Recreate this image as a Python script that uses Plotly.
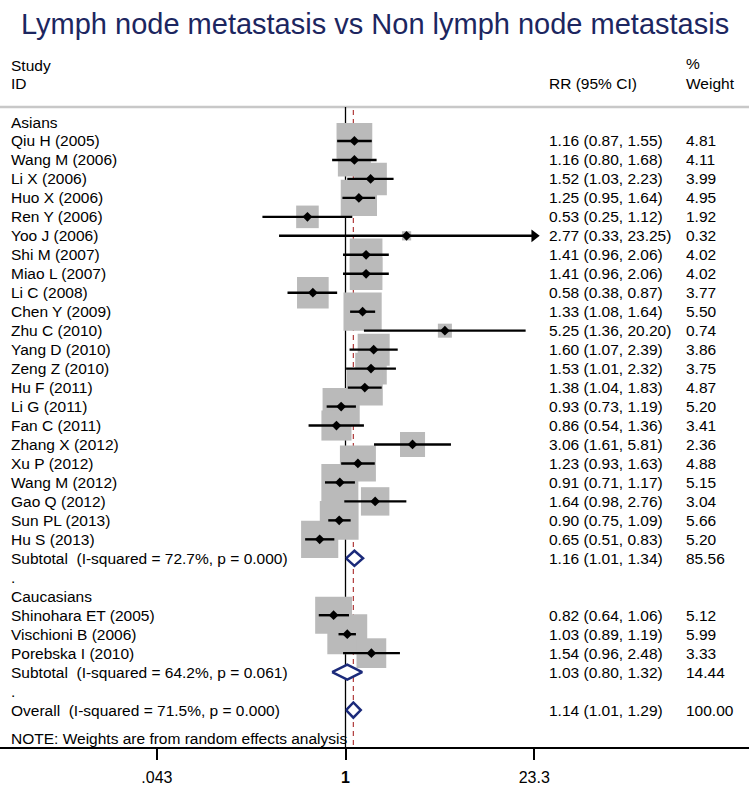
import math
import plotly.graph_objects as go

# ---------------- data ----------------
asian_ids = ["Qiu H (2005)", "Wang M (2006)", "Li X (2006)", "Huo X (2006)", "Ren Y (2006)",
             "Yoo J (2006)", "Shi M (2007)", "Miao L (2007)", "Li C (2008)", "Chen Y (2009)",
             "Zhu C (2010)", "Yang D (2010)", "Zeng Z (2010)", "Hu F (2011)", "Li G (2011)",
             "Fan C (2011)", "Zhang X (2012)", "Xu P (2012)", "Wang M (2012)", "Gao Q (2012)",
             "Sun PL (2013)", "Hu S (2013)"]
asian_rr = [1.16, 1.16, 1.52, 1.25, 0.53, 2.77, 1.41, 1.41, 0.58, 1.33, 5.25, 1.60, 1.53, 1.38,
            0.93, 0.86, 3.06, 1.23, 0.91, 1.64, 0.90, 0.65]
asian_lo = [0.87, 0.80, 1.03, 0.95, 0.25, 0.33, 0.96, 0.96, 0.38, 1.08, 1.36, 1.07, 1.01, 1.04,
            0.73, 0.54, 1.61, 0.93, 0.71, 0.98, 0.75, 0.51]
asian_hi = [1.55, 1.68, 2.23, 1.64, 1.12, 23.25, 2.06, 2.06, 0.87, 1.64, 20.20, 2.39, 2.32, 1.83,
            1.19, 1.36, 5.81, 1.63, 1.17, 2.76, 1.09, 0.83]
asian_w = [4.81, 4.11, 3.99, 4.95, 1.92, 0.32, 4.02, 4.02, 3.77, 5.50, 0.74, 3.86, 3.75, 4.87,
           5.20, 3.41, 2.36, 4.88, 5.15, 3.04, 5.66, 5.20]

cauc_ids = ["Shinohara ET (2005)", "Vischioni B (2006)", "Porebska I (2010)"]
cauc_rr = [0.82, 1.03, 1.54]
cauc_lo = [0.64, 0.89, 0.96]
cauc_hi = [1.06, 1.19, 2.48]
cauc_w = [5.12, 5.99, 3.33]

pooled_labels = ["Subtotal  (I-squared = 72.7%, p = 0.000)",
                 "Subtotal  (I-squared = 64.2%, p = 0.061)",
                 "Overall  (I-squared = 71.5%, p = 0.000)"]
pooled_rr = [1.16, 1.03, 1.14]
pooled_lo = [1.01, 0.80, 1.01]
pooled_hi = [1.34, 1.32, 1.29]
pooled_w = [85.56, 14.44, 100.00]

group_names = ["Asians", "Caucasians"]
x_ticks = [0.043, 1, 23.3]
x_tick_labels = [".043", "<b>1</b>", "23.3"]

title_text = "Lymph node metastasis vs Non lymph node metastasis"
note_text = "NOTE: Weights are from random effects analysis"

# ---------------- layout helpers ----------------
W, H = 749, 787
PLOT_H = 747
Y0, DY = 122.0, 18.97          # pixel of row 0 and row pitch
X1_PX, PX_PER_DEC = 345.5, 138.0
FONT = "Liberation Sans, Arial, sans-serif"
FS = 15.5
NAVY = "#1b2a7a"
GREY = "#bababa"


def row_of(py):
    return (py - Y0) / DY


def xp(px):
    return px / W


# build row layout
rows = []  # (kind, label, rr, lo, hi, w)
rows.append(("group", group_names[0], None, None, None, None))
for i in range(len(asian_ids)):
    rows.append(("study", asian_ids[i], asian_rr[i], asian_lo[i], asian_hi[i], asian_w[i]))
rows.append(("pooled", pooled_labels[0], pooled_rr[0], pooled_lo[0], pooled_hi[0], pooled_w[0]))
rows.append(("dot", ".", None, None, None, None))
rows.append(("group", group_names[1], None, None, None, None))
for i in range(len(cauc_ids)):
    rows.append(("study", cauc_ids[i], cauc_rr[i], cauc_lo[i], cauc_hi[i], cauc_w[i]))
rows.append(("pooled", pooled_labels[1], pooled_rr[1], pooled_lo[1], pooled_hi[1], pooled_w[1]))
rows.append(("dot", ".", None, None, None, None))
rows.append(("pooled", pooled_labels[2], pooled_rr[2], pooled_lo[2], pooled_hi[2], pooled_w[2]))

xmin_clip, xmax_clip = min(x_ticks), max(x_ticks)

fig = go.Figure()

# boxes
bx, by, bs = [], [], []
for r, (k, lab, e, lo, hi, w) in enumerate(rows):
    if k == "study":
        bx.append(e); by.append(r); bs.append(16.3 * math.sqrt(w))
fig.add_trace(go.Scatter(x=bx, y=by, mode="markers",
                         marker=dict(symbol="square", size=bs, color=GREY, opacity=1,
                                     line=dict(width=0)),
                         hoverinfo="skip", showlegend=False))

# CI lines (intervals reaching the axis limit are drawn to it with an arrow)
lx, ly = [], []
ax_, ay_ = [], []
for r, (k, lab, e, lo, hi, w) in enumerate(rows):
    if k == "study":
        a = max(lo, xmin_clip)
        b = hi
        if hi >= 0.995 * xmax_clip:
            b = xmax_clip
            ax_.append(b); ay_.append(r)
        lx += [a, b, None]; ly += [r, r, None]
fig.add_trace(go.Scatter(x=lx, y=ly, mode="lines", line=dict(color="black", width=2.4),
                         hoverinfo="skip", showlegend=False))

# arrow heads for clipped intervals
fig.add_trace(go.Scatter(x=ax_, y=ay_, mode="markers",
                         marker=dict(symbol="triangle-right", size=11, color="black",
                                     line=dict(width=0)),
                         hoverinfo="skip", showlegend=False))

# point estimates
fig.add_trace(go.Scatter(x=bx, y=by, mode="markers",
                         marker=dict(symbol="diamond", size=7.5, color="black", line=dict(width=0)),
                         hoverinfo="skip", showlegend=False))

# pooled diamonds
h = 0.40
for r, (k, lab, e, lo, hi, w) in enumerate(rows):
    if k == "pooled":
        fig.add_trace(go.Scatter(x=[lo, e, hi, e, lo], y=[r, r - h, r, r + h, r],
                                 mode="lines", fill="toself", fillcolor="white",
                                 line=dict(color=NAVY, width=2.5),
                                 hoverinfo="skip", showlegend=False))

annotations = []

# text columns
for r, (k, lab, e, lo, hi, w) in enumerate(rows):
    annotations.append(dict(x=xp(9), y=r, xref="paper", yref="y", text=lab, showarrow=False,
                            xanchor="left", yanchor="middle",
                            font=dict(family=FONT, size=FS, color="black")))
    if e is not None:
        annotations.append(dict(x=xp(547), y=r, xref="paper", yref="y",
                                text=f"{e:.2f} ({lo:.2f}, {hi:.2f})", showarrow=False,
                                xanchor="left", yanchor="middle",
                                font=dict(family=FONT, size=FS, color="black")))
        annotations.append(dict(x=xp(684), y=r, xref="paper", yref="y",
                                text=f"{w:.2f}", showarrow=False,
                                xanchor="left", yanchor="middle",
                                font=dict(family=FONT, size=FS, color="black")))

# headers
for (txt, px, py) in [("Study", 9, 65), ("ID", 9, 83), ("RR (95% CI)", 547, 83),
                      ("%", 684, 63), ("Weight", 684, 83)]:
    annotations.append(dict(x=xp(px), y=row_of(py), xref="paper", yref="y", text=txt,
                            showarrow=False, xanchor="left", yanchor="middle",
                            font=dict(family=FONT, size=FS, color="black")))
annotations.append(dict(x=xp(9), y=row_of(738), xref="paper", yref="y", text=note_text,
                        showarrow=False, xanchor="left", yanchor="middle",
                        font=dict(family=FONT, size=FS, color="black")))
annotations.append(dict(x=xp(375), y=row_of(24), xref="paper", yref="y", text=title_text,
                        showarrow=False, xanchor="center", yanchor="middle",
                        font=dict(family=FONT, size=29, color="#1c2660")))

y_top = row_of(0)
y_bot = row_of(PLOT_H)
hdr = row_of(107)

shapes = [
    dict(type="line", xref="paper", yref="y", x0=0, x1=1, y0=hdr, y1=hdr,
         line=dict(color="#c8c8c8", width=2.5), layer="below"),
    dict(type="line", xref="x", yref="y", x0=1, x1=1, y0=hdr, y1=y_bot,
         line=dict(color="black", width=1.3), layer="below"),
    dict(type="line", xref="x", yref="y", x0=pooled_rr[2], x1=pooled_rr[2], y0=row_of(110), y1=y_bot,
         line=dict(color="#b03a3a", width=1.2, dash="5px,4px"), layer="below"),
]

xr0 = (0 - X1_PX) / PX_PER_DEC
xr1 = (W - X1_PX) / PX_PER_DEC

fig.update_layout(
    width=W, height=H, margin=dict(l=0, r=0, t=0, b=H - PLOT_H),
    paper_bgcolor="white", plot_bgcolor="white",
    xaxis=dict(type="log", range=[xr0, xr1], showgrid=False, zeroline=False,
               showline=True, linecolor="black", linewidth=1.5,
               ticks="outside", ticklen=11, tickwidth=1.5, tickcolor="black",
               tickvals=x_ticks, ticktext=x_tick_labels, ticklabelstandoff=4,
               tickfont=dict(family=FONT, size=16, color="black"), fixedrange=True),
    yaxis=dict(range=[y_bot, y_top], visible=False, fixedrange=True),
    annotations=annotations, shapes=shapes, showlegend=False,
)

fig.write_html("out.html", config={"displayModeBar": False},
               post_script="document.body.style.margin='0';")
